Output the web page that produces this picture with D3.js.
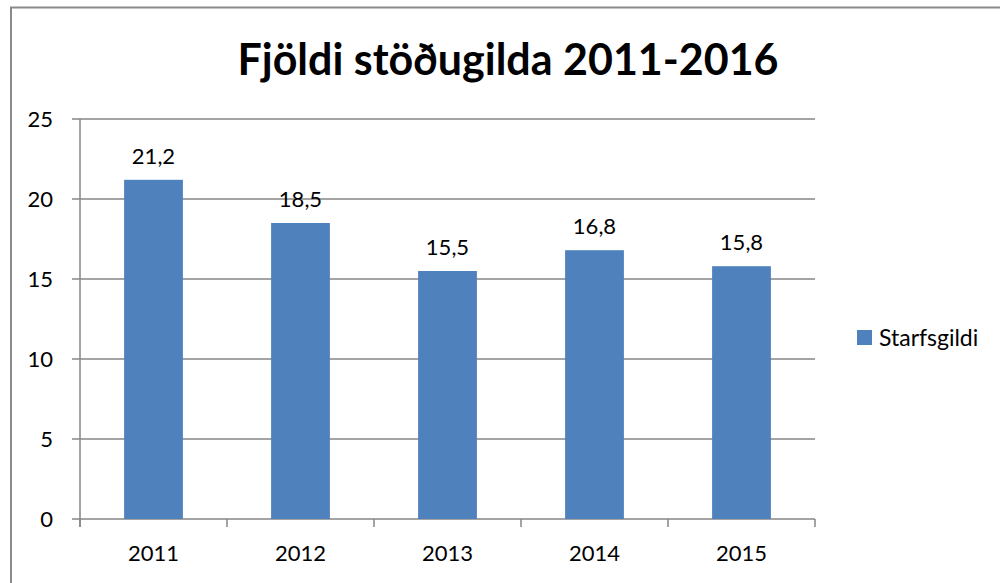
<!DOCTYPE html>
<html>
<head>
<meta charset="utf-8">
<script src="https://cdn.jsdelivr.net/npm/d3@7"></script>
<style>
  body { margin: 0; background: #fff; }
  svg text { font-family: Lato, "Open Sans", sans-serif; fill: #000; }
</style>
</head>
<body>
<div id="chart"></div>
<script>
const years = ["2011", "2012", "2013", "2014", "2015"]
const starfsgildi = [21.2, 18.5, 15.5, 16.8, 15.8]
const yTicks = [0, 5, 10, 15, 20, 25]
const seriesName = "Starfsgildi"
const title = "Fjöldi stöðugilda 2011-2016"
const topLine = "Fjöldi stöðugilda á árinu var að meðaltali 15,85"

const width = 1000
const height = 583
const margin = {top: 119, right: 185, bottom: 64, left: 80}
const fs = "22px"

const svg = d3.select("#chart")
    .append("svg")
    .attr("width", width)
    .attr("height", height)

// clipped text line above the chart frame
svg.append("text")
    .attr("x", 35)
    .attr("y", 1)
    .style("font-family", "'Liberation Serif', serif")
    .style("font-size", "22px")
    .text(topLine)

// chart frame
svg.append("rect")
    .attr("x", 0).attr("y", 0)
    .attr("width", width).attr("height", 7)
    .attr("fill", "#fff")
svg.append("path")
    .attr("d", `M11,${height} V7.5 H${width}`)
    .attr("fill", "none")
    .attr("stroke", "#8a8a8a")
    .attr("stroke-width", 2)

const x = d3.scaleBand()
    .domain(years)
    .range([margin.left, width - margin.right])
    .paddingInner(0.6)
    .paddingOuter(0.3)

const y = d3.scaleLinear()
    .domain([0, 25])
    .range([height - margin.bottom, margin.top])

const step = x.step()

// gridlines + y axis ticks
const grid = svg.append("g")
grid.selectAll("line")
    .data(yTicks)
    .join("line")
    .attr("x1", margin.left - 8)
    .attr("x2", width - margin.right)
    .attr("y1", d => y(d))
    .attr("y2", d => y(d))
    .attr("stroke", "#868686")
    .attr("stroke-width", 1.5)

grid.selectAll("text")
    .data(yTicks)
    .join("text")
    .attr("x", 53)
    .attr("y", d => y(d))
    .attr("dy", "0.36em")
    .attr("text-anchor", "end")
    .style("font-size", fs)
    .text(d => d)

// y axis line
svg.append("line")
    .attr("x1", margin.left).attr("x2", margin.left)
    .attr("y1", y(25)).attr("y2", y(0) + 8)
    .attr("stroke", "#868686")
    .attr("stroke-width", 1.5)

// x axis tick marks between categories
const xTickPos = d3.range(years.length + 1).map(i => margin.left + i * step)
svg.append("g").selectAll("line")
    .data(xTickPos)
    .join("line")
    .attr("x1", d => d).attr("x2", d => d)
    .attr("y1", y(0)).attr("y2", y(0) + 8)
    .attr("stroke", "#868686")
    .attr("stroke-width", 1.5)

svg.append("g").selectAll("text")
    .data(years)
    .join("text")
    .attr("x", d => x(d) + x.bandwidth() / 2)
    .attr("y", 561)
    .attr("text-anchor", "middle")
    .style("font-size", fs)
    .text(d => d)

// bars
svg.append("g").selectAll("rect")
    .data(starfsgildi)
    .join("rect")
    .attr("x", (d, i) => x(years[i]))
    .attr("y", d => y(d))
    .attr("width", x.bandwidth())
    .attr("height", d => y(0) - y(d))
    .attr("fill", "#4f81bd")

// value labels
svg.append("g").selectAll("text")
    .data(starfsgildi)
    .join("text")
    .attr("x", (d, i) => x(years[i]) + x.bandwidth() / 2)
    .attr("y", d => y(d) - 16)
    .attr("text-anchor", "middle")
    .style("font-size", fs)
    .text(d => d3.format(".1f")(d).replace(".", ","))

// legend
const legend = svg.append("g").attr("transform", "translate(857,330)")
legend.append("rect")
    .attr("width", 15).attr("height", 15)
    .attr("fill", "#4f81bd")
legend.append("text")
    .attr("x", 22).attr("y", 8)
    .attr("dy", "0.36em")
    .style("font-size", "23px")
    .text(seriesName)

// title
const t = svg.append("text")
    .attr("x", 508)
    .attr("y", 75)
    .attr("text-anchor", "middle")
    .style("font-size", "42px")
    .style("font-weight", "bold")
    .text(title)
const tw = t.node().getComputedTextLength()
t.style("font-size", (42 * 541 / tw).toFixed(1) + "px")
</script>
</body>
</html>
